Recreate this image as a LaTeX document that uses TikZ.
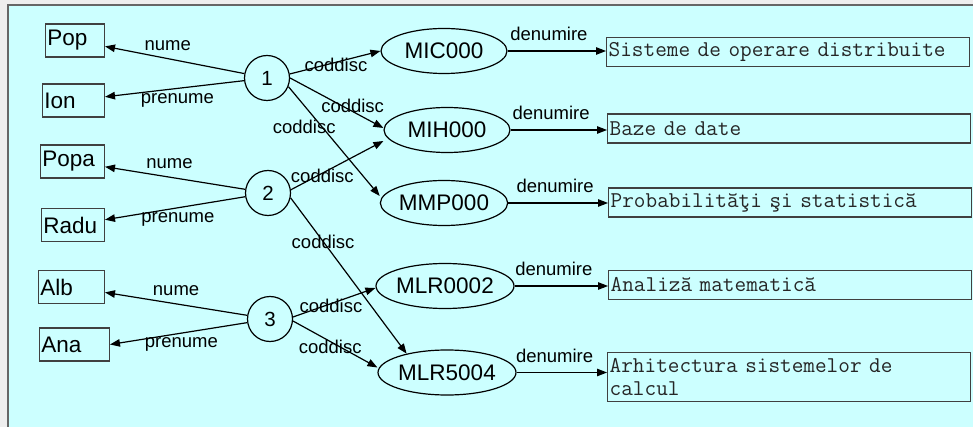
\documentclass[tikz,border=0pt]{standalone}
\usepackage{fontspec}
\setmainfont{Liberation Sans}
\usetikzlibrary{arrows.meta,shapes.geometric}
\definecolor{bgcyan}{RGB}{204,255,255}
\definecolor{pagegray}{RGB}{238,238,238}
\newcommand{\lblfont}{\fontsize{18.5}{22}\selectfont}
\newcommand{\bigfont}{\fontsize{22.5}{26}\selectfont}

\begin{document}
\begin{tikzpicture}[x=1pt,y=-1pt,>={Triangle[length=10pt,width=7.5pt]},line width=1.2pt,
    obj node/.style={circle,draw,minimum size=45pt,inner sep=0pt,font=\fontsize{20.5}{24}\selectfont},
    val node/.style={rectangle,draw=black!75,line width=1.4pt,anchor=east,minimum height=33pt,inner xsep=2pt,inner ysep=0pt,align=left,font=\bigfont},
    key node/.style={ellipse,draw,minimum width=126pt,minimum height=45pt,inner sep=0pt,font=\bigfont},
    name node/.style={rectangle,draw=black!75,line width=1.4pt,anchor=west,minimum height=29pt,inner xsep=2pt,inner ysep=3pt,align=left,text width=359pt,text=black!85,font=\ttfamily\fontsize{22.6}{22.5}\selectfont}]
            \useasboundingbox (0,0) rectangle (973,427);
            \fill[pagegray] (0,0) rectangle (973,427);
            \fill[bgcyan] (8,5) rectangle (973,427);
            \draw[black!60,line width=2pt] (8,430) -- (8,5.5) -- (976,5.5);

            \node[val node,text width=55pt] at (105,40.5) (pop) {Pop};
            \node[val node,text width=58pt] at (105,100.5) (ion) {Ion};
            \node[val node,text width=60pt] at (105,161.5) (popa) {Popa};
            \node[val node,text width=59pt] at (105,225) (radu) {Radu};
            \node[val node,text width=62pt] at (105,287) (alb) {Alb};
            \node[val node,text width=66pt] at (110,344.5) (ana) {Ana};

            \node[obj node] at (267,78) (c1) {1};
            \node[obj node] at (268,193) (c2) {2};
            \node[obj node] at (270,319) (c3) {3};

            \node[key node] at (444,51) (mic) {MIC000};
            \node[key node] at (447,130) (mih) {MIH000};
            \node[key node] at (444,203) (mmp) {MMP000};
            \node[key node] at (445,286) (mlra) {MLR0002};
            \node[key node] at (447,372.5) (mlrb) {MLR5004};

            \node[name node] at (606,52) (sis) {Sisteme de operare distribuite};
            \node[name node] at (607,128.5) (baze) {Baze de date};
            \node[name node] at (608,202.5) (prob) {Probabilităţi şi statistică};
            \node[name node] at (608,285) (anal) {Analiză matematică};
            \node[name node,minimum height=49pt] at (607,377) (arh) {Arhitectura sistemelor de\\calcul};

            \path[->,every node/.style={font=\lblfont}]
                (c1) edge node[pos=.55,above=4pt] {nume} (pop)
                (c1) edge node[pos=.48,below=1pt] {prenume} (ion)
                (c2) edge node[pos=.54,above=5pt] {nume} (popa)
                (c2) edge node[pos=.48,below=1pt] {prenume} (radu)
                (c3) edge node[pos=.5,above=4pt] {nume} (alb)
                (c3) edge node[pos=.48,below=0pt] {prenume} (ana.east)
                ;

            \path[->,every node/.style={font=\lblfont}]
                (c1.10) edge node[pos=.51,yshift=-3pt] {coddisc} (mic.west)
                (c1.east) edge node[pos=.67,yshift=6pt] {coddisc} ([yshift=2pt]mih.west)
                (c1.-22) edge node[pos=.37,xshift=-18pt] {coddisc} ([yshift=7pt]mmp.west)
                (c2.8) edge node[pos=.34,yshift=-3pt] {coddisc} ([yshift=-11pt]mih.west)
                (c2.-12) edge node[pos=.28] {coddisc} (mlrb.155)
                (c3.5) edge node[pos=.46,yshift=-2pt] {coddisc} ([yshift=-2pt]mlra.west)
                (c3.-5) edge node[pos=.44,yshift=-5pt] {coddisc} ([yshift=5pt]mlrb.west)
                ;

            \path[->,every node/.style={font=\lblfont}]
                (mic) edge node[pos=.42,above=6pt] {denumire} (mic -| sis.west)
                (mih) edge node[pos=.42,above=6pt] {denumire} (mih -| baze.west)
                (mmp) edge node[pos=.47,above=6pt] {denumire} (mmp -| prob.west)
                (mlra) edge node[pos=.42,above=6pt] {denumire} (mlra -| anal.west)
                (mlrb) edge node[pos=.42,above=6pt] {denumire} (mlrb -| arh.west)
                ;
        \end{tikzpicture}
\end{document}
